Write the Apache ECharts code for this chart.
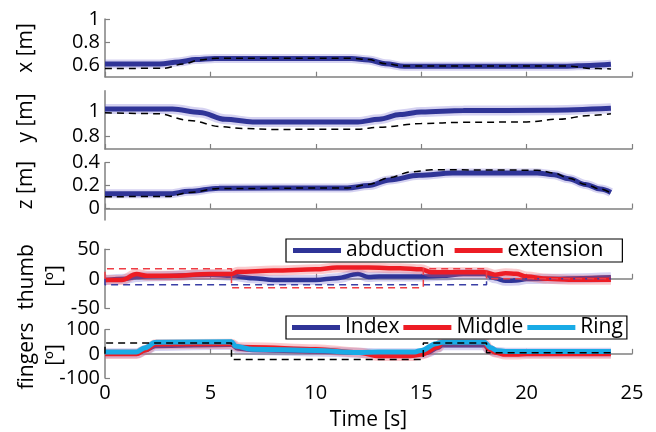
<!DOCTYPE html>
<html>
<head>
<meta charset="utf-8">
<script src="https://cdn.jsdelivr.net/npm/echarts@6/dist/echarts.min.js"></script>
<style>
html,body{margin:0;padding:0;background:#fff;}
#chart{width:656px;height:432px;}
</style>
</head>
<body>
<div id="chart"></div>
<script>
// ---------- data ----------
const xMeanT = [0, 2.6, 3.5, 4.3, 5.2, 11.7, 12.5, 13.3, 14.2, 21.8, 23, 24];
const xMeanV = [0.61, 0.61, 0.628, 0.648, 0.658, 0.658, 0.645, 0.612, 0.59, 0.59, 0.598, 0.607];
const xRefT = [0, 2.8, 3.7, 4.5, 5.3, 11.7, 12.5, 13.3, 14.2, 22, 23, 24];
const xRefV = [0.57, 0.573, 0.61, 0.645, 0.66, 0.66, 0.648, 0.612, 0.592, 0.592, 0.572, 0.567];

const yMeanT = [0, 3.2, 4.5, 5.7, 7, 12, 13, 14, 15, 17, 21, 24];
const yMeanV = [1.022, 1.022, 0.995, 0.94, 0.918, 0.918, 0.94, 0.978, 0.998, 1.01, 1.012, 1.028];
const yRefT = [0, 2.5, 4, 5.5, 6.5, 8, 12, 13, 15, 17, 20, 21.5, 23, 24];
const yRefV = [0.992, 0.985, 0.93, 0.88, 0.865, 0.858, 0.86, 0.875, 0.905, 0.915, 0.918, 0.94, 0.97, 0.985];

const zMeanT = [0, 3, 4, 5.4, 11.5, 12.5, 13.5, 14.9, 16.5, 20.5, 21.3, 22, 22.8, 23.5, 24];
const zMeanV = [0.128, 0.128, 0.15, 0.177, 0.18, 0.2, 0.25, 0.29, 0.31, 0.31, 0.295, 0.26, 0.21, 0.17, 0.14];
const zRefT = [0, 3, 4, 5.4, 11.5, 12.5, 13.5, 14.5, 15.5, 20.5, 21.3, 22, 22.8, 23.5, 24];
const zRefV = [0.103, 0.105, 0.14, 0.175, 0.18, 0.21, 0.27, 0.32, 0.338, 0.335, 0.31, 0.265, 0.21, 0.17, 0.135];

const abdT = [0, 1, 1.5, 2, 5, 6, 7, 8, 10, 11, 12, 12.5, 13, 15, 16, 17, 18, 18.5, 19, 19.5, 20, 21, 24];
const abdV = [-2, 0, 3, 4, 7, 5, 1, -2, -2, 1, 8, 3, 4, 4, 5, 8, 8, 1, -3.5, -3, -0.5, 0, 2.5];
const extT = [0, 0.8, 1.5, 2, 3, 5, 6, 6.3, 8, 10, 11, 12.5, 14, 15, 15.5, 18, 18.5, 19, 19.5, 20, 21, 22, 24];
const extV = [-2, -2, 8, 5, 5, 8, 8, 12, 14, 16, 19, 19, 18, 16, 11, 11, 7, 9.5, 8.5, 4, 0, -1.5, -1.5];
const abdRefT = [0, 0, 18.1, 18.1, 24];
const abdRefV = [0, -10, -10, 0, 0];
const extRefT = [0, 0, 6, 6, 15.1, 15.1, 18.1, 18.1, 24];
const extRefV = [0, 17, 17, -15, -15, 17, 17, 0, 0];

const idxT = [0, 1.5, 1.9, 2.4, 6, 6.3, 7, 10, 12, 13, 15, 15.3, 15.8, 16, 18, 18.2, 18.5, 19, 24];
const idxV = [2, 2, 15, 33, 38, 22, 16, 10, 5, 2, 2, 5, 25, 36, 36, 19, 8, 5, 5];
const midT = [0, 1.5, 1.9, 2.4, 6, 6.3, 7, 10, 12, 13, 14.5, 15, 15.8, 16, 18, 18.2, 18.5, 19, 19.5, 20, 24];
const midV = [-1, -1, 15, 40, 42, 28, 27, 19, 6, -9, -9, -3, 28, 48, 48, 19, 6, -3, -3, -1, -1];
const ringT = [0, 1.5, 1.9, 2.4, 6, 6.2, 7, 10, 12, 13, 14.7, 15, 15.7, 16, 18, 18.3, 18.6, 19, 24];
const ringV = [8, 8, 25, 48, 50, 31, 19, 14, 6, 8, 8, 14, 42, 48, 48, 25, 13, 10, 10];
const fRefT = [0, 0, 6, 6, 15.1, 15.1, 18.1, 18.1, 24];
const fRefV = [0, 45, 45, -23, -23, 45, 45, 5, 5];

const timeTicks = [0, 5, 10, 15, 20, 25];
const yTicks1 = [0.6, 0.8, 1];
const yTicks2 = [0.8, 1];
const yTicks3 = [0, 0.2, 0.4];
const yTicks4 = [-50, 0, 50];
const yTicks5 = [-100, 0, 100];
const yLabels = ['x [m]', 'y [m]', 'z [m]'];
const thumbLabel = ['thumb', '[º]'];
const fingerLabel = ['fingers', '[º]'];
const legend1 = ['abduction', 'extension'];
const legend2 = ['Index', 'Middle', 'Ring'];

// ---------- styles ----------
const FONT = 'Open Sans';
const BLUE = '#2f3497';
const BLUE_HALO = 'rgba(125,115,210,0.32)';
const RED = '#ed1c24';
const RED_HALO = 'rgba(240,90,100,0.32)';
const CYAN = '#19abe6';
const AXIS = '#808080';

const zip = (t, v) => t.map((x, i) => [x, v[i]]);

const grids = [
  {top: 19, height: 57.7},
  {top: 90.7, height: 58.3},
  {top: 162.7, height: 57.3},
  {top: 249.3, height: 59},
  {top: 329.7, height: 59}
].map(g => Object.assign({left: 105, right: 24}, g));

const xAxes = grids.map((g, i) => ({
  type: 'value', gridIndex: i, min: 0, max: 25, interval: 5,
  axisLine: {show: true, lineStyle: {color: AXIS, width: 1.5}},
  axisTick: {show: true, inside: true, length: 5, lineStyle: {color: AXIS, width: 1.2}, customValues: timeTicks},
  axisLabel: {show: i === 4, customValues: timeTicks, fontFamily: FONT, fontSize: 20, color: '#000', margin: 5},
  splitLine: {show: false},
  name: i === 4 ? 'Time [s]' : '',
  nameLocation: 'middle', nameGap: 32,
  nameTextStyle: {fontFamily: FONT, fontSize: 21, color: '#000'}
}));

const yDefs = [
  {min: 0.5, max: 1, ticks: yTicks1},
  {min: 0.7, max: 1.17, ticks: yTicks2},
  {min: -0.1, max: 0.4, ticks: yTicks3},
  {min: -50, max: 50, ticks: yTicks4},
  {min: -100, max: 100, ticks: yTicks5}
];
const yAxes = yDefs.map((d, i) => ({
  type: 'value', gridIndex: i, min: d.min, max: d.max,
  axisLine: {show: true, lineStyle: {color: AXIS, width: 1.5}},
  axisTick: {show: true, inside: true, length: 5, lineStyle: {color: AXIS, width: 1.2}, customValues: d.ticks},
  axisLabel: {customValues: d.ticks, fontFamily: FONT, fontSize: 20, color: '#000', margin: 5},
  splitLine: {show: false}
}));

function line(name, t, v, idx, color, width, extra) {
  return Object.assign({
    type: 'line', name: name, xAxisIndex: idx, yAxisIndex: idx,
    data: zip(t, v), showSymbol: false, symbol: 'none',
    smooth: 0.35, smoothMonotone: 'x',
    lineStyle: {color: color, width: width},
    itemStyle: {color: color},
    emphasis: {disabled: true}, silent: true, animation: false
  }, extra || {});
}
const dashed = (color) => ({type: [7, 5], color: color, width: 1.5});

const series = [
  // x
  line('x spread', xMeanT, xMeanV, 0, BLUE_HALO, 9),
  line('x mean', xMeanT, xMeanV, 0, BLUE, 5),
  line('x ref', xRefT, xRefV, 0, '#000', 1.5, {lineStyle: dashed('#000'), z: 5}),
  // y
  line('y spread', yMeanT, yMeanV, 1, BLUE_HALO, 10),
  line('y mean', yMeanT, yMeanV, 1, BLUE, 5),
  line('y ref', yRefT, yRefV, 1, '#000', 1.5, {lineStyle: dashed('#000'), z: 5}),
  // z
  line('z spread', zMeanT, zMeanV, 2, BLUE_HALO, 9),
  line('z mean', zMeanT, zMeanV, 2, BLUE, 5),
  line('z ref', zRefT, zRefV, 2, '#000', 1.5, {lineStyle: dashed('#000'), z: 5}),
  // thumb
  line('abduction spread', abdT, abdV, 3, BLUE_HALO, 10),
  line('abduction', abdT, abdV, 3, BLUE, 4.5),
  line('extension spread', extT, extV, 3, RED_HALO, 10),
  line('extension', extT, extV, 3, RED, 4.5),
  line('abduction ref', abdRefT, abdRefV, 3, BLUE, 1.5, {smooth: false, lineStyle: dashed('#3a3fa5'), z: 5}),
  line('extension ref', extRefT, extRefV, 3, RED, 1.5, {smooth: false, lineStyle: dashed('#ee3d45'), z: 5}),
  // fingers
  line('Index spread', idxT, idxV, 4, BLUE_HALO, 10),
  line('Index', idxT, idxV, 4, BLUE, 4.5),
  line('Middle spread', midT, midV, 4, RED_HALO, 10),
  line('Middle', midT, midV, 4, RED, 4.5),
  line('Ring', ringT, ringV, 4, CYAN, 5),
  line('fingers ref', fRefT, fRefV, 4, '#000', 1.5, {smooth: false, lineStyle: dashed('#000'), z: 5})
];

const legendCommon = {
  icon: 'rect', itemWidth: 48, itemHeight: 5,
  textStyle: {fontFamily: FONT, fontSize: 21, color: '#000'},
  borderColor: '#000', borderWidth: 1.2, backgroundColor: '#fff',
  selectedMode: false, orient: 'horizontal'
};
const legends = [
  Object.assign({}, legendCommon, {data: legend1, left: 286, top: 239, itemGap: 10, padding: [1, 19, 1, 7]}),
  Object.assign({}, legendCommon, {data: legend2, left: 286, top: 316, itemGap: 4, padding: [1, 4, 1, 6]})
];

function vText(text, x, y) {
  return {type: 'text', x: x, y: y, rotation: Math.PI / 2, silent: true,
    style: {text: text, fontFamily: FONT, fontSize: 21, fill: '#000', align: 'center', verticalAlign: 'middle'}};
}
const graphics = [
  vText(yLabels[0], 26, 48),
  vText(yLabels[1], 26, 118),
  vText(yLabels[2], 26, 185),
  vText(thumbLabel[0], 27, 277),
  vText(thumbLabel[1], 55, 276),
  vText(fingerLabel[0], 27, 356),
  vText(fingerLabel[1], 55, 355)
];

const chart = echarts.init(document.getElementById('chart'), null, {renderer: 'canvas'});
chart.setOption({
  animation: false,
  backgroundColor: '#fff',
  grid: grids,
  xAxis: xAxes,
  yAxis: yAxes,
  legend: legends,
  graphic: graphics,
  series: series
});
</script>
</body>
</html>
